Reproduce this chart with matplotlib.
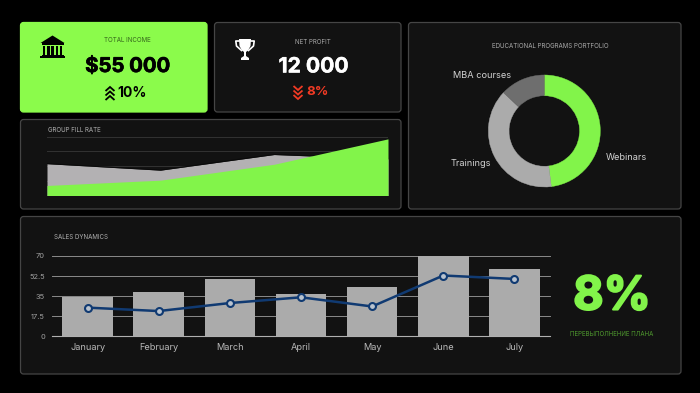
import matplotlib
matplotlib.use("Agg")
import matplotlib.pyplot as plt
import matplotlib.patheffects as pe
from matplotlib.patches import FancyBboxPatch, Polygon, Rectangle
import numpy as np

W, H = 700, 393
GREEN = "#8BFB4B"
GREEN2 = "#82F44A"
GRAY = "#ABABAB"
CARD = "#121212"
EDGE = "#454545"
NAVY = "#103A72"

# group fill rate
fill_x = [0, 1, 2, 3]
fill_gray = [54, 43, 69.5, 62]
fill_green = [17, 26, 53, 96]
fill_ticks = [0, 25, 50, 75, 100]

# portfolio
prog_names = ["Webinars", "Trainings", "MBA courses"]
prog_values = [48, 39, 13]
prog_colors = [GREEN2, "#ABABAB", "#6E6E6E"]

# sales
months = ["January", "February", "March", "April", "May", "June", "July"]
sales_bars = [34, 39, 50, 37, 43, 70, 59]
sales_line = [25, 22, 29, 34, 26, 53, 50]
sales_ticks = [0, 17.5, 35, 52.5, 70]
sales_tick_labels = ["0", "17.5", "35", "52.5", "70"]

plt.rcParams["font.family"] = ["Inter", "DejaVu Sans"]

fig = plt.figure(figsize=(7, 3.93), dpi=100, facecolor="black")
bg = fig.add_axes([0, 0, 1, 1])
bg.set_xlim(0, W)
bg.set_ylim(H, 0)
bg.axis("off")


def sub_axes(x0, y0, x1, y1):
    # rectangle given in picture pixels, y going down
    ax = fig.add_axes([x0 / W, 1 - y1 / H, (x1 - x0) / W, (y1 - y0) / H])
    ax.patch.set_alpha(0)
    return ax


def card(x0, y0, x1, y1, color=CARD, edge=EDGE):
    bg.add_patch(FancyBboxPatch((x0, y0), x1 - x0, y1 - y0,
                                boxstyle="round,pad=0,rounding_size=3",
                                fc=color, ec=edge, lw=0.9))


def chevrons(cx, ys, color, up=True):
    for y in ys:
        d = -4 if up else 4
        bg.plot([cx - 4.5, cx, cx + 4.5], [y - d / 2, y + d / 2, y - d / 2],
                color=color, lw=1.3, solid_joinstyle="miter", solid_capstyle="butt")


def heavy(txt, color, width=0.5):
    txt.set_path_effects([pe.withStroke(linewidth=width, foreground=color)])


card(20.5, 22.5, 207, 112, GREEN, GREEN)
card(214.5, 22.5, 401, 112)
card(408.5, 22.5, 681, 209)
card(20.5, 119.5, 401, 209)
card(20.5, 216.5, 681, 374)

# bank icon
bg.add_patch(Polygon([[40.5, 43], [52.5, 35.5], [64.5, 43]], fc="black", ec="none"))
bg.add_patch(Rectangle((41.5, 43), 22, 2, fc="black", ec="none"))
for px in [43, 47.2, 51.4, 55.6, 59.8]:
    bg.add_patch(Rectangle((px, 45.5), 2.3, 9, fc="black", ec="none"))
bg.add_patch(Rectangle((41.5, 54.5), 22, 1.5, fc="black", ec="none"))
bg.add_patch(Rectangle((40, 56), 25, 2, fc="black", ec="none"))

# trophy icon
bg.add_patch(Polygon([[239, 39], [251, 39], [250.5, 46], [248, 50.5], [246, 52], [246, 56],
                      [249, 58], [249, 60], [241, 60], [241, 58], [244, 56], [244, 52],
                      [242, 50.5], [239.5, 46]], fc="white", ec="none"))
bg.plot([239, 235.8, 236.5, 241.5], [41, 41, 46, 50.5], color="white", lw=1.2)
bg.plot([251, 254.2, 253.5, 248.5], [41, 41, 46, 50.5], color="white", lw=1.2)

chevrons(110, [89, 93.5, 98], "black", up=True)
chevrons(298, [88, 92.5, 97], "#F03A24", up=False)

small = dict(ha="center", va="center", fontsize=4.45)
bg.text(127.5, 40.5, "TOTAL INCOME", color="#35661c", **small)
bg.text(313, 42, "NET PROFIT", color="#a8a8a8", **small)
heavy(bg.text(127.5, 67, "$55 000", color="black", ha="center", va="center", fontsize=14.6, fontweight="bold"), "black")
heavy(bg.text(313.5, 66.5, "12 000", color="white", ha="center", va="center", fontsize=15.2, fontweight="bold"), "white", 0.3)
bg.text(132.5, 93, "10%", color="black", ha="center", va="center", fontsize=10, fontweight="bold")
bg.text(318, 92, "8%", color="#F03A24", ha="center", va="center", fontsize=9.6, fontweight="bold")
bg.text(48, 130.5, "GROUP FILL RATE", color="#b0b0b0", ha="left", va="center", fontsize=4.45)
bg.text(550, 46, "EDUCATIONAL PROGRAMS PORTFOLIO", color="#a8a8a8", **small)
bg.text(54, 237, "SALES DYNAMICS", color="#b0b0b0", ha="left", va="center", fontsize=4.45)
heavy(bg.text(612, 297.5, "8%", color=GREEN2, ha="center", va="center", fontsize=33.5, fontweight="bold"), GREEN2, 1.5)
bg.text(612, 333.5, "ПЕРЕВЫПОЛНЕНИЕ ПЛАНА", color="#4f9a2e", ha="center", va="center", fontsize=4.4)

# area chart
ax1 = sub_axes(47, 136.5, 388, 195.5)
ax1.fill_between(fill_x, fill_gray, color="#B3B1B3", lw=0, zorder=2)
ax1.plot(fill_x, fill_gray, color="#0a0a0a", lw=0.8, zorder=2)
ax1.fill_between(fill_x, fill_green, color=GREEN2, lw=0, zorder=3)
ax1.set_xlim(0, 3)
ax1.set_ylim(0, 100)
ax1.set_yticks(fill_ticks)
ax1.set_xticks([])
ax1.tick_params(length=0, labelleft=False)
ax1.grid(axis="y", color="#333333", lw=0.7, zorder=1)
for s in ax1.spines.values():
    s.set_visible(False)

# donut
ax2 = sub_axes(544.3 - 56, 131 - 56, 544.3 + 56, 131 + 56)
wedges, _ = ax2.pie(prog_values, colors=prog_colors, startangle=90, counterclock=False, radius=1,
                    wedgeprops=dict(width=0.37, lw=0.3))
for w, c in zip(wedges, prog_colors):
    w.set_edgecolor(c)
ax2.set_xlim(-1, 1)
ax2.set_ylim(-1, 1)
label_xy = {"Webinars": (626.5, 157), "Trainings": (470.5, 164), "MBA courses": (482, 75)}
for name in prog_names:
    bg.text(*label_xy[name], name, color="#d2d2d2", ha="center", va="center", fontsize=6.6)

# sales
ax3 = sub_axes(52, 256, 550, 336.3)
ax3.bar(range(len(months)), sales_bars, width=0.71, color=GRAY, zorder=2)
ax3.plot(range(len(months)), sales_line, color=NAVY, lw=1.8, marker="o", ms=5, mfc="#b9c3cf",
         mec=NAVY, mew=1.5, zorder=3)
ax3.set_xlim(-0.5, 6.5)
ax3.set_ylim(0, 70)
ax3.set_yticks(sales_ticks)
ax3.set_yticklabels(sales_tick_labels, color="#a0a0a0", fontsize=5.4)
ax3.set_xticks(range(len(months)))
ax3.set_xticklabels(months, color="#b8b8b8", fontsize=6.6)
ax3.tick_params(length=0)
ax3.tick_params(axis="y", pad=5)
ax3.tick_params(axis="x", pad=5)
ax3.grid(axis="y", color="#8a8a8a", lw=0.7, zorder=1, clip_on=False)
ax3.set_axisbelow(True)
for s in ax3.spines.values():
    s.set_visible(False)
ax3.spines["bottom"].set_visible(True)
ax3.spines["bottom"].set_color("#b0b0b0")
ax3.spines["bottom"].set_linewidth(0.8)

fig.savefig("out.png", dpi=100, facecolor="black")
